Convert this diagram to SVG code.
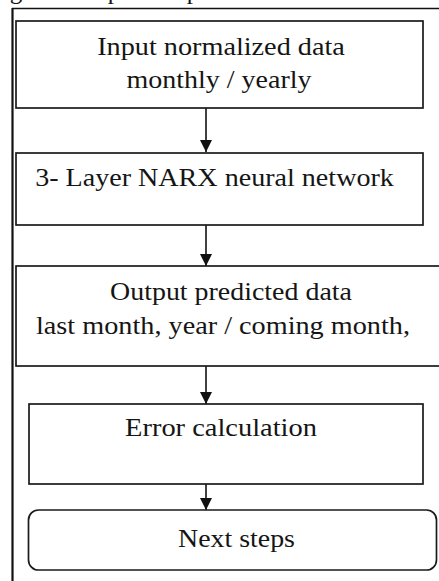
<svg xmlns="http://www.w3.org/2000/svg" width="439" height="581" viewBox="0 0 439 581">
<style>
.box{fill:#fff;stroke:#1a1a1a;stroke-width:1.7}
.c{stroke:#111;stroke-width:1.6;fill:none}
.frame{stroke:#111;fill:none}
.t{font-family:"Liberation Serif",serif;font-size:25px;fill:#151515;text-anchor:middle}
</style>
<defs>
<marker id="ah" viewBox="0 0 12 12" refX="12" refY="6" markerWidth="12" markerHeight="12" markerUnits="userSpaceOnUse" orient="auto">
<path d="M0,0 L12,6 L0,12 Z" fill="#111"/>
</marker>
</defs>
<rect width="439" height="581" fill="#fff"/>
<g id="caption-fragment">
<text class="t" x="16" y="-1">g</text>
<text class="t" x="114" y="-1">p</text>
<text class="t" x="193" y="-1">p</text>
</g>
<g id="frame">
<line class="frame" x1="12.5" y1="8" x2="12.5" y2="581" stroke-width="2.2"/>
<line class="frame" x1="12" y1="8.5" x2="439" y2="8.5" stroke-width="1.6"/>
</g>
<g id="connectors">
<line class="c" x1="206" y1="108" x2="206" y2="152" marker-end="url(#ah)"/>
<line class="c" x1="206" y1="225" x2="206" y2="266" marker-end="url(#ah)"/>
<line class="c" x1="206" y1="366" x2="206" y2="404" marker-end="url(#ah)"/>
<line class="c" x1="206" y1="484" x2="206" y2="510" marker-end="url(#ah)"/>
</g>
<g id="input">
<rect class="box" x="16" y="21" width="407" height="87"/>
<text class="t" transform="translate(221,55) scale(1.13,1)">Input normalized data</text>
<text class="t" transform="translate(219,88) scale(1.12,1)">monthly / yearly</text>
</g>
<g id="narx">
<rect class="box" x="16" y="153" width="407" height="72"/>
<text class="t" transform="translate(214.5,186) scale(1.124,1)">3- Layer NARX neural network</text>
</g>
<g id="output">
<rect class="box" x="16" y="266" width="430" height="100"/>
<text class="t" transform="translate(231,300) scale(1.117,1)">Output predicted data</text>
<text class="t" transform="translate(223,334) scale(1.13,1)">last month, year / coming month,</text>
</g>
<g id="error">
<rect class="box" x="29" y="404" width="394" height="80"/>
<text class="t" transform="translate(221,436) scale(1.138,1)">Error calculation</text>
</g>
<g id="next">
<rect class="box" x="28.5" y="510" width="408" height="60" rx="10" ry="10"/>
<text class="t" transform="translate(236.5,547) scale(1.116,1)">Next steps</text>
</g>
</svg>
